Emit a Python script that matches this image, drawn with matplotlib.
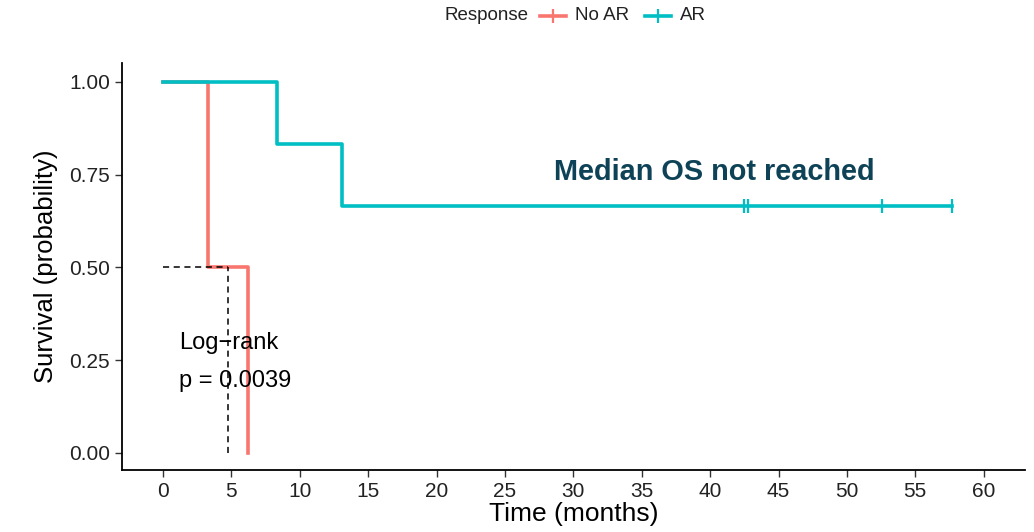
import matplotlib
matplotlib.use("Agg")
import matplotlib.pyplot as plt
from matplotlib.lines import Line2D

plt.rcParams['font.family'] = ['Liberation Sans', 'DejaVu Sans']

# Data
noar_t = [0, 3.3, 6.2]
noar_s = [1.0, 0.5, 0.0]
ar_t = [0, 8.3, 13.1, 57.7]
ar_s = [1.0, 5/6, 2/3, 2/3]
ar_censor_t = [42.5, 42.8, 52.6, 57.7]
ar_censor_s = [2/3, 2/3, 2/3, 2/3]
median_noar = 4.75
xticks = list(range(0, 61, 5))
yticks = [0.0, 0.25, 0.5, 0.75, 1.0]
ytick_labels = ["0.00", "0.25", "0.50", "0.75", "1.00"]
groups = ["No AR", "AR"]

red = "#F8766D"
teal = "#00BFC4"
colors = [red, teal]

W, H = 1034, 532
fig = plt.figure(figsize=(W / 100, H / 100), dpi=100)
ax = fig.add_axes([0.118, 0.1165, 0.873, 0.7645])

ax.step(noar_t, noar_s, where='post', color=red, lw=2.6)
ax.step(ar_t, ar_s, where='post', color=teal, lw=2.6)
ax.plot(ar_censor_t, ar_censor_s, linestyle='none', marker='|', color=teal,
        markersize=10, markeredgewidth=1.6)

# median lines
ax.plot([0, median_noar], [0.5, 0.5], color='black', ls=(0, (4, 3)), lw=1.1)
ax.plot([median_noar, median_noar], [0, 0.5], color='black', ls=(0, (4, 3)), lw=1.1)

ax.text(1.2, 0.296, "Log\u2212rank", fontsize=17, va='center', ha='left')
ax.text(1.2, 0.194, "p = 0.0039", fontsize=17, va='center', ha='left')
ax.text(40.3, 0.757, "Median OS not reached", fontsize=20.8, fontweight='bold',
        color='#0E4257', ha='center', va='center')

ax.set_xlim(-3, 63)
ax.set_ylim(-0.046, 1.05)
ax.set_xticks(xticks)
ax.set_xticklabels([str(x) for x in xticks])
ax.set_yticks(yticks)
ax.set_yticklabels(ytick_labels)
ax.tick_params(labelsize=15, length=5, width=1, color='#333333', labelcolor='#222222')
ax.set_xlabel("Time (months)", fontsize=19, labelpad=1)
ax.set_ylabel("Survival (probability)", fontsize=18.5, labelpad=8)
for s in ['top', 'right']:
    ax.spines[s].set_visible(False)
for s in ['left', 'bottom']:
    ax.spines[s].set_linewidth(1.3)

# manual legend in figure pixel coords
def fx(px):
    return px / W
def fy(py):
    return 1 - py / H

ly = 16
fig.text(fx(445), fy(ly), "Response", fontsize=13.5, va='center', ha='left', color='#222222')
handle_x = [(540, 566), (645, 671)]
label_x = [575, 680]
for (x0, x1), lx, c, g in zip(handle_x, label_x, colors, groups):
    fig.add_artist(Line2D([fx(x0), fx(x1)], [fy(ly), fy(ly)], color=c, lw=2.6,
                          transform=fig.transFigure))
    fig.add_artist(Line2D([fx((x0 + x1) / 2)], [fy(ly)], color=c, marker='|',
                          markersize=10, markeredgewidth=1.6, transform=fig.transFigure))
    fig.text(fx(lx), fy(ly), g, fontsize=13.5, va='center', ha='left', color='#222222')

fig.savefig("out.png", dpi=100)
